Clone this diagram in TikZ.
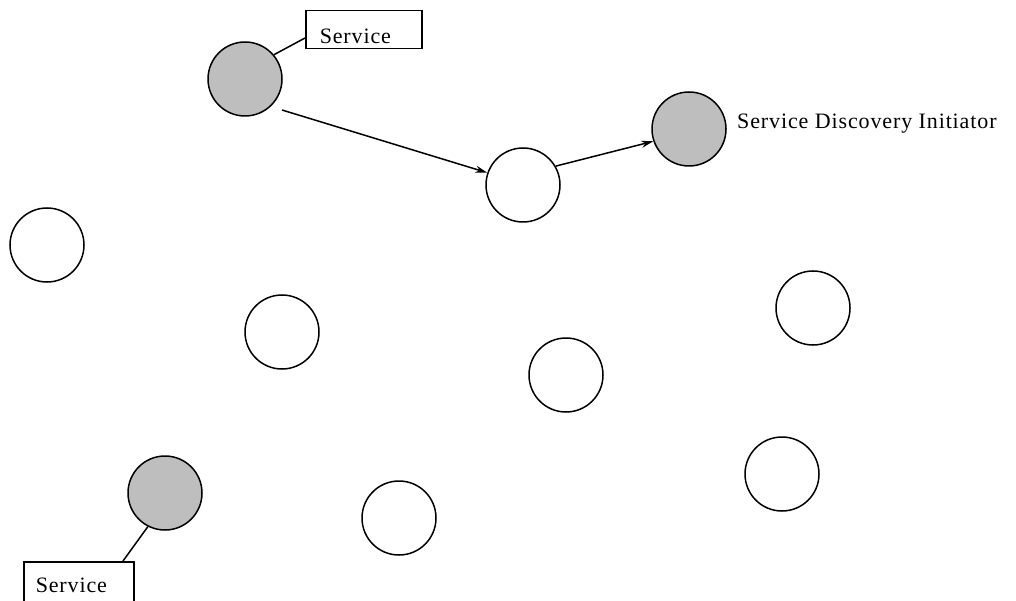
\documentclass[tikz,border=0pt]{standalone}
\usepackage{fontspec}
\setmainfont{Liberation Serif}[LetterSpace=4]
\usetikzlibrary{arrows.meta}
\definecolor{nodegray}{RGB}{190,190,190}
\tikzset{
  peer/.style={circle, draw=black, line width=1.5pt, fill=white, minimum size=74pt, inner sep=0pt},
  provider/.style={peer, fill=nodegray},
  labelfont/.style={font=\fontsize{22}{26}\selectfont},
  tag/.style={draw=black, line width=1.5pt, fill=white, labelfont, anchor=north west,
    inner ysep=0pt, align=left},
  link/.style={line width=1.5pt},
  hop/.style={line width=1.5pt, -{Stealth[length=12pt,width=7pt]}},
  plain/.style={labelfont, inner sep=0pt, anchor=base west}
}
\begin{document}
\begin{tikzpicture}[x=1pt,y=-1pt]
\useasboundingbox (0,0) rectangle (1016,601);
% mobile nodes
\node[provider] (s1)  at (245,79)  {};
\node[provider] (sdi) at (689,129) {};
\node[peer]     (m)   at (523,185) {};
\node[peer]     (a)   at (47,245)  {};
\node[peer]     (b)   at (282,332) {};
\node[peer]     (c)   at (813,308) {};
\node[peer]     (d)   at (566,375) {};
\node[provider] (s2)  at (165,493) {};
\node[peer]     (e)   at (399,518) {};
\node[peer]     (f)   at (782,474) {};
% service labels
\node[tag, inner xsep=14pt, text width=88pt, text height=33pt, text depth=5pt] (t1) at (305,10) {Service};
\node[tag, inner xsep=12pt, text width=86pt, text height=31pt, text depth=14pt] (t2) at (23,561) {Service};
\node[plain] (lbl) at (737,128.5) {Service Discovery Initiator};
% connectors
\coordinate (t1pin) at (305,38);
\coordinate (t2pin) at (123,561);
\coordinate (h1) at (282,110);
\draw[link] (t1pin) -- (s1.40);
\draw[link] (t2pin) -- (s2.-117);
\draw[hop] (h1) -- (m.161);
\draw[hop] (m.30) -- (sdi.199);
\end{tikzpicture}
\end{document}
